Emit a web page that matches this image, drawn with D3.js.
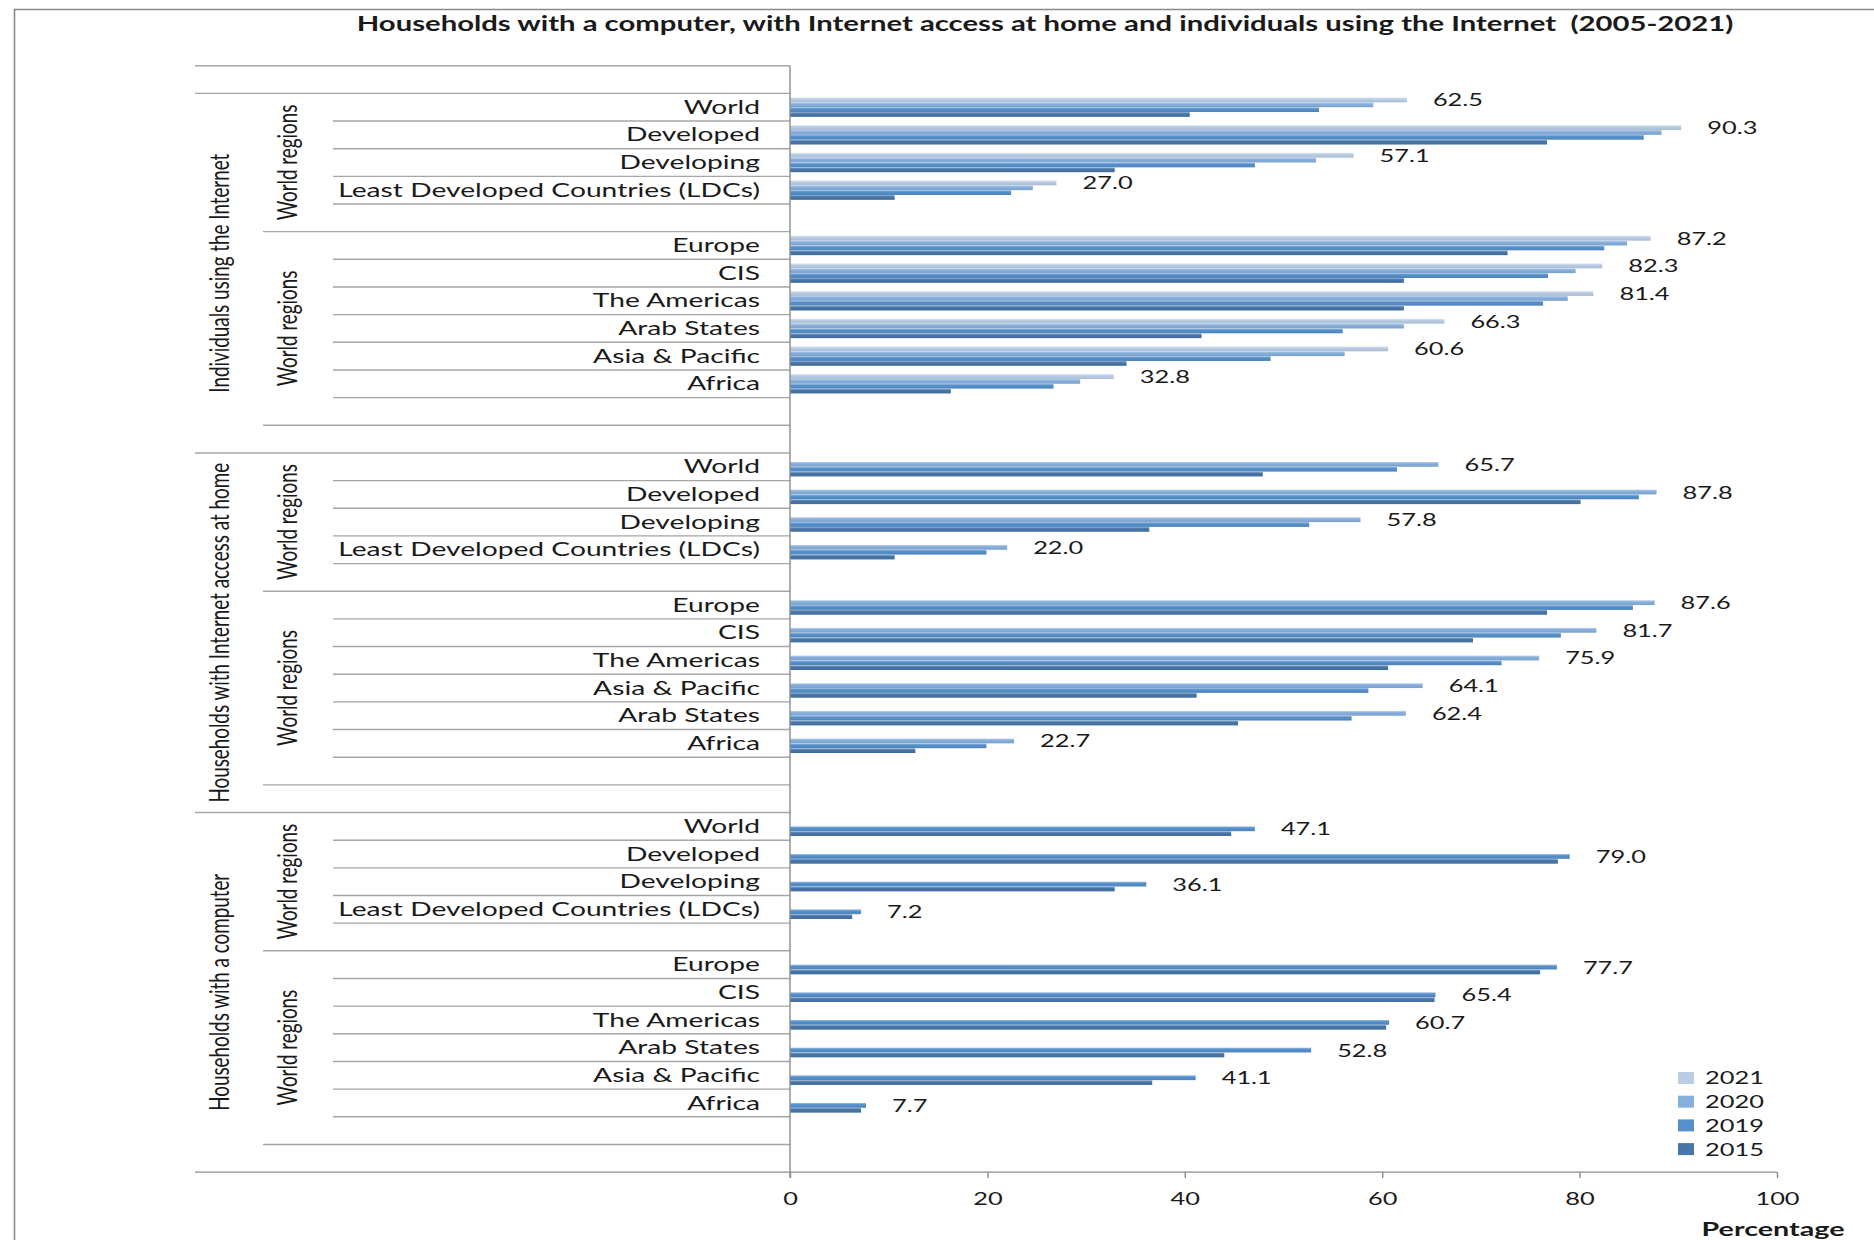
<!DOCTYPE html>
<html><head><meta charset="utf-8">
<script src="https://cdn.jsdelivr.net/npm/d3@7"></script>
<style>
body{margin:0;background:#fff}
svg{display:block}
text{font-family:Lato,"Open Sans",sans-serif;fill:#1a1a1a}
</style>
</head><body>
<svg id="chart" width="1874" height="1240"></svg>
<script>
// ---------- data ----------
const title = "Households with a computer, with Internet access at home and individuals using the Internet  (2005-2021)";
const years = ["2021", "2020", "2019", "2015"];
const yearColors = ["#b9cde5", "#88b0dd", "#5590cc", "#4876a9"];
const indicators = ["Individuals using the Internet", "Households with Internet access at home", "Households with a computer"];
const subgroupLabel = "World regions";
const aggregates = ["World", "Developed", "Developing", "Least Developed Countries (LDCs)"];
const regionsInternet = ["Europe", "CIS", "The Americas", "Arab States", "Asia & Pacific", "Africa"];
const regionsHome = ["Europe", "CIS", "The Americas", "Asia & Pacific", "Arab States", "Africa"];
const regionsComputer = ["Europe", "CIS", "The Americas", "Arab States", "Asia & Pacific", "Africa"];

// order: World, Developed, Developing, LDCs, then regions in listed order
const internet2021 = [62.5, 90.3, 57.1, 27.0, 87.2, 82.3, 81.4, 66.3, 60.6, 32.8];
const internet2020 = [59.1, 88.3, 53.3, 24.6, 84.8, 79.6, 78.8, 62.2, 56.2, 29.4];
const internet2019 = [53.6, 86.5, 47.1, 22.4, 82.5, 76.8, 76.3, 56.0, 48.7, 26.7];
const internet2015 = [40.5, 76.7, 32.9, 10.6, 72.7, 62.2, 62.2, 41.7, 34.1, 16.3];

const home2020 = [65.7, 87.8, 57.8, 22.0, 87.6, 81.7, 75.9, 64.1, 62.4, 22.7];
const home2019 = [61.5, 86.0, 52.6, 19.9, 85.4, 78.1, 72.1, 58.6, 56.9, 19.9];
const home2015 = [47.9, 80.1, 36.4, 10.6, 76.7, 69.2, 60.6, 41.2, 45.4, 12.7];

const computer2019 = [47.1, 79.0, 36.1, 7.2, 77.7, 65.4, 60.7, 52.8, 41.1, 7.7];
const computer2015 = [44.7, 77.8, 32.9, 6.3, 76.0, 65.3, 60.4, 44.0, 36.7, 7.2];

const xTicks = [0, 20, 40, 60, 80, 100];
const xAxisTitle = "Percentage";

// ---------- structure ----------
const groups = [
  {name: indicators[0], cats: aggregates.concat(regionsInternet),
   series: {"2021": internet2021, "2020": internet2020, "2019": internet2019, "2015": internet2015}, labelYear: "2021"},
  {name: indicators[1], cats: aggregates.concat(regionsHome),
   series: {"2020": home2020, "2019": home2019, "2015": home2015}, labelYear: "2020"},
  {name: indicators[2], cats: aggregates.concat(regionsComputer),
   series: {"2019": computer2019, "2015": computer2015}, labelYear: "2019"}
];
const ROWS_PER_GROUP = 13, NROWS = 40;
const rowOf = (g, i) => 1 + ROWS_PER_GROUP * g + (i < 4 ? i : i + 1);

function draw() {
  const svg = d3.select("#chart");
  const plotTop = 65.7, plotBottom = 1172.1;
  const x = d3.scaleLinear().domain([0, 100]).range([790, 1777]);
  const y = d3.scaleBand().domain(d3.range(NROWS)).range([plotTop, plotBottom]).paddingInner(0);
  const step = y.step();
  const yb = b => plotTop + b * step;
  const inner = d3.scaleBand().domain(years).range([0.15 * step, 0.85 * step]);
  const color = d3.scaleOrdinal().domain(years).range(yearColors);

  // measure stretch factor (reference text is horizontally stretched)
  const tmp = svg.append("text").attr("font-size", 20).text(aggregates[3]);
  const S = 422 / tmp.node().getComputedTextLength();
  tmp.attr("font-size", 20).text(indicators[0]);
  const rotSize = 20 * 239 / tmp.node().getComputedTextLength();
  tmp.remove();

  // gradients
  const defs = svg.append("defs");
  years.forEach(yr => {
    const base = color(yr);
    const gr = defs.append("linearGradient").attr("id", "g" + yr)
      .attr("x1", 0).attr("y1", 0).attr("x2", 0).attr("y2", 1);
    gr.append("stop").attr("offset", "0%").attr("stop-color", d3.interpolateRgb(base, "#ffffff")(0.45));
    gr.append("stop").attr("offset", "35%").attr("stop-color", base);
    gr.append("stop").attr("offset", "100%").attr("stop-color", d3.color(base).darker(0.25));
  });

  // chart border
  svg.append("path").attr("d", "M14.5,1240 V9.5 H1874").attr("fill", "none")
    .attr("stroke", "#8a8a8a").attr("stroke-width", 1.6);

  // title
  const t = svg.append("text").attr("font-weight", 700).attr("font-size", 20).attr("text-anchor", "middle")
    .attr("fill", "#000").style("white-space", "pre").text(title);
  const tw = t.node().getComputedTextLength();
  t.attr("transform", `translate(1045,31) scale(${1377 / tw},1)`);

  // category lines
  const lines = [];
  [0, 1].forEach(b => lines.push({b, x0: 195}));
  groups.forEach((g, gi) => {
    const r0 = 1 + ROWS_PER_GROUP * gi;
    lines.push({b: r0 + 13, x0: 195});
    [5, 12].forEach(k => lines.push({b: r0 + k, x0: 263}));
    [1, 2, 3, 4, 6, 7, 8, 9, 10, 11].forEach(k => lines.push({b: r0 + k, x0: 333}));
  });
  svg.append("g").selectAll("line").data(lines.filter(l => l.b < NROWS)).join("line")
    .attr("x1", d => d.x0).attr("x2", x(0)).attr("y1", d => yb(d.b)).attr("y2", d => yb(d.b))
    .attr("stroke", "#a6a6a6").attr("stroke-width", 1.4);

  // bars
  const barData = [];
  groups.forEach((g, gi) => {
    g.cats.forEach((c, i) => {
      years.forEach(yr => {
        if (g.series[yr]) barData.push({row: rowOf(gi, i), year: yr, v: g.series[yr][i]});
      });
    });
  });
  svg.append("g").selectAll("rect").data(barData).join("rect")
    .attr("x", x(0)).attr("y", d => y(d.row) + inner(d.year))
    .attr("width", d => x(d.v) - x(0)).attr("height", inner.bandwidth())
    .attr("fill", d => `url(#g${d.year})`);

  // value labels
  const labData = [];
  groups.forEach((g, gi) => g.cats.forEach((c, i) => {
    labData.push({row: rowOf(gi, i), year: g.labelYear, v: g.series[g.labelYear][i]});
  }));
  svg.append("g").selectAll("text").data(labData).join("text")
    .attr("font-size", 18).attr("fill", "#262626")
    .attr("transform", d => `translate(${x(d.v) + 26},${y(d.row) + inner(d.year) + inner.bandwidth() / 2}) scale(${S},1)`)
    .attr("dy", "0.36em").text(d => d.v.toFixed(1));

  // category labels
  const catData = [];
  groups.forEach((g, gi) => g.cats.forEach((c, i) => catData.push({row: rowOf(gi, i), name: c})));
  svg.append("g").selectAll("text").data(catData).join("text")
    .attr("font-size", 20).attr("text-anchor", "end").attr("fill", "#1a1a1a")
    .attr("transform", d => `translate(760,${y(d.row) + step / 2}) scale(${S},1)`)
    .attr("dy", "0.33em").text(d => d.name);

  // rotated group labels
  const rot = [];
  groups.forEach((g, gi) => {
    const r0 = 1 + ROWS_PER_GROUP * gi;
    rot.push({cx: 219, cy: (yb(r0) + yb(r0 + 13)) / 2, text: g.name});
    rot.push({cx: 287, cy: (yb(r0) + yb(r0 + 5)) / 2, text: subgroupLabel});
    rot.push({cx: 287, cy: (yb(r0 + 5) + yb(r0 + 12)) / 2, text: subgroupLabel});
  });
  svg.append("g").selectAll("text").data(rot).join("text")
    .attr("font-size", rotSize).attr("text-anchor", "middle").attr("fill", "#000")
    .attr("transform", d => `translate(${d.cx},${d.cy}) scale(${S},1) rotate(-90)`)
    .attr("dy", "0.36em").text(d => d.text);

  // axes lines
  svg.append("line").attr("x1", x(0)).attr("x2", x(0)).attr("y1", plotTop).attr("y2", plotBottom + 6)
    .attr("stroke", "#8c8c8c").attr("stroke-width", 1.4);
  svg.append("line").attr("x1", 195).attr("x2", x(100)).attr("y1", plotBottom).attr("y2", plotBottom)
    .attr("stroke", "#8c8c8c").attr("stroke-width", 1.4);

  const ax = svg.append("g").attr("transform", `translate(0,${plotBottom})`)
    .call(d3.axisBottom(x).tickValues(xTicks).tickSize(6).tickSizeOuter(0).tickPadding(14));
  ax.select(".domain").remove();
  ax.selectAll(".tick line").attr("stroke", "#8c8c8c").attr("stroke-width", 1.4);
  ax.selectAll(".tick text").attr("font-size", 18).attr("font-family", "Lato")
    .attr("fill", "#1a1a1a").attr("transform", `scale(${S},1)`);

  const pt = svg.append("text").attr("font-weight", 700).attr("font-size", 18).attr("text-anchor", "middle")
    .attr("fill", "#000").text(xAxisTitle);
  const pw = pt.node().getComputedTextLength();
  pt.attr("transform", `translate(1773,1236) scale(${143 / pw},1)`);

  // legend
  const lg = svg.append("g").selectAll("g").data(years).join("g")
    .attr("transform", (d, i) => `translate(1678,${1078 + i * 23.7})`);
  lg.append("rect").attr("x", 0).attr("y", -6).attr("width", 16).attr("height", 12)
    .attr("fill", d => color(d));
  lg.append("text").attr("font-size", 18).attr("fill", "#1a1a1a")
    .attr("transform", `translate(27,0) scale(${S},1)`).attr("dy", "0.36em").text(d => d);
}

if (document.fonts && document.fonts.ready) document.fonts.ready.then(draw); else draw();
</script>
</body></html>
